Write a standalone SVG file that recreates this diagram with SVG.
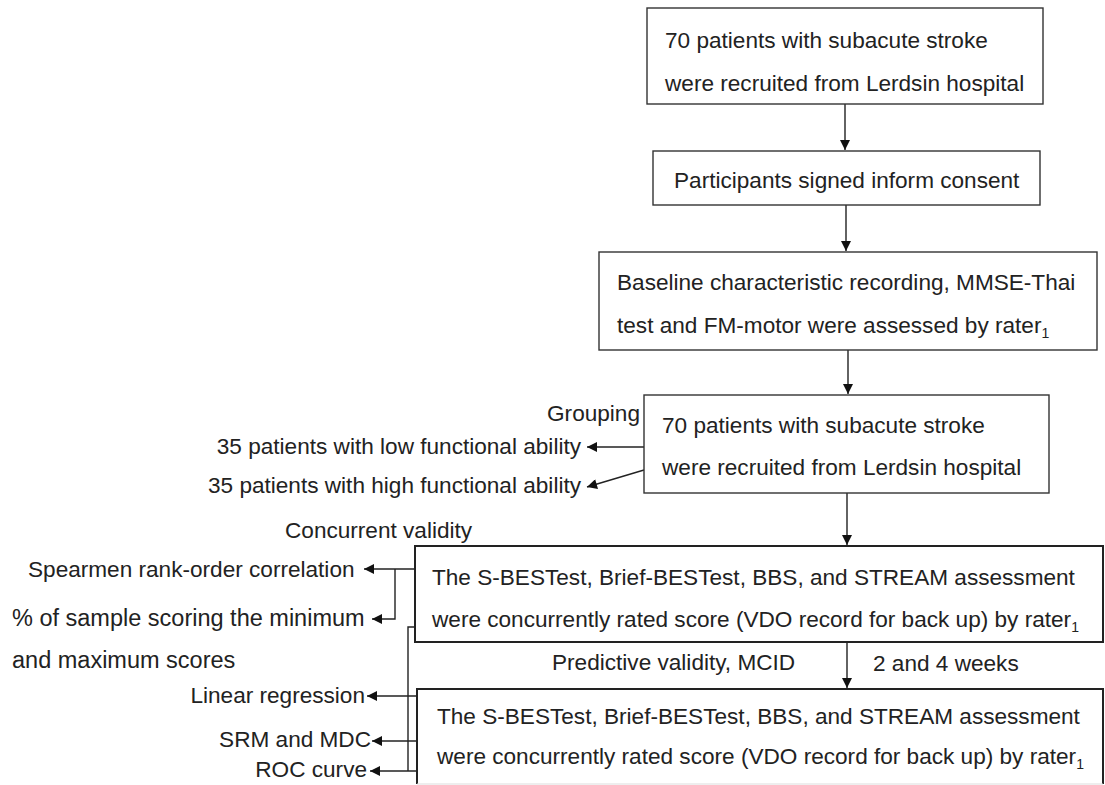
<svg xmlns="http://www.w3.org/2000/svg" width="1105" height="785" viewBox="0 0 1105 785">
  <style>
    text { font-family: "Liberation Sans", Arial, sans-serif; font-size: 22.6px; fill: #222; }
    .end { text-anchor: end; }
    .sub { font-size: 14px; }
    .box { fill: #fff; stroke: #333; stroke-width: 1.4; }
    .box-bold { fill: #fff; stroke: #222; stroke-width: 2; }
    .wire { fill: none; stroke: #222; stroke-width: 1.4; }
    .big { font-size: 23.5px; }
  </style>
  <defs>
    <marker id="arrow" viewBox="0 0 10 10" refX="10" refY="5" markerWidth="11" markerHeight="10" markerUnits="userSpaceOnUse" orient="auto">
      <path d="M0,0 L10,5 L0,10 z" fill="#111"/>
    </marker>
  </defs>
  <rect width="1105" height="785" fill="#fff"/>

  <!-- connectors -->
  <g id="connectors">
    <path class="wire" d="M845,104 V150" marker-end="url(#arrow)"/>
    <path class="wire" d="M846,205 V251" marker-end="url(#arrow)"/>
    <path class="wire" d="M848,350 V394" marker-end="url(#arrow)"/>
    <path class="wire" d="M847,493 V545" marker-end="url(#arrow)"/>
    <path class="wire" d="M847,642 V688" marker-end="url(#arrow)"/>
    <!-- grouping outputs -->
    <path class="wire" d="M644,447 H587" marker-end="url(#arrow)"/>
    <path class="wire" d="M644,470 L587,487" marker-end="url(#arrow)"/>
    <!-- concurrent validity outputs -->
    <path class="wire" d="M415,569 H364" marker-end="url(#arrow)"/>
    <path class="wire" d="M395,569 V619 H372" marker-end="url(#arrow)"/>
    <!-- predictive validity / MCID outputs -->
    <path class="wire" d="M415,627 H408 V771"/>
    <path class="wire" d="M417,696 H367" marker-end="url(#arrow)"/>
    <path class="wire" d="M417,741 H372" marker-end="url(#arrow)"/>
    <path class="wire" d="M417,771 H370" marker-end="url(#arrow)"/>
  </g>

  <g id="node-recruit">
    <rect class="box" x="647" y="8" width="396" height="96"/>
    <text x="665" y="48">70 patients with subacute stroke</text>
    <text x="665" y="91">were recruited from Lerdsin hospital</text>
  </g>

  <g id="node-consent">
    <rect class="box" x="653" y="151" width="387" height="54"/>
    <text x="674" y="188">Participants signed inform consent</text>
  </g>

  <g id="node-baseline">
    <rect class="box" x="599" y="252" width="498" height="98"/>
    <text x="617" y="290">Baseline characteristic recording, MMSE-Thai</text>
    <text x="617" y="333">test and FM-motor were assessed by rater<tspan class="sub" dy="5">1</tspan></text>
  </g>

  <g id="node-grouping">
    <rect class="box" x="644" y="395" width="405" height="98"/>
    <text x="662" y="433">70 patients with subacute stroke</text>
    <text x="662" y="475">were recruited from Lerdsin hospital</text>
  </g>

  <g id="label-grouping">
    <text class="end" x="640" y="421">Grouping</text>
    <text class="end" x="581" y="454">35 patients with low functional ability</text>
    <text class="end" x="581" y="493">35 patients with high functional ability</text>
  </g>

  <g id="label-concurrent">
    <text x="285" y="538">Concurrent validity</text>
    <text x="28" y="577">Spearmen rank-order correlation</text>
    <text class="big" x="12" y="626">% of sample scoring the minimum</text>
    <text class="big" x="12" y="668">and maximum scores</text>
  </g>

  <g id="node-assessment-1">
    <rect class="box-bold" x="415" y="546" width="688" height="96"/>
    <text x="432" y="585">The S-BESTest, Brief-BESTest, BBS, and STREAM assessment</text>
    <text x="432" y="627">were concurrently rated score (VDO record for back up) by rater<tspan class="sub" dy="5">1</tspan></text>
  </g>

  <g id="label-followup">
    <text x="552" y="670">Predictive validity, MCID</text>
    <text x="873" y="671">2 and 4 weeks</text>
  </g>

  <g id="node-assessment-2">
    <rect x="417" y="689" width="686" height="95" fill="#fff" stroke="none"/>
    <path d="M417,784 V689 H1103 V784" fill="none" stroke="#222" stroke-width="2"/>
    <path d="M417,784 H1103" fill="none" stroke="#ddd" stroke-width="1"/>
    <text x="437" y="724">The S-BESTest, Brief-BESTest, BBS, and STREAM assessment</text>
    <text x="437" y="764">were concurrently rated score (VDO record for back up) by rater<tspan class="sub" dy="5">1</tspan></text>
  </g>

  <g id="label-analysis">
    <text class="end" x="365" y="703">Linear regression</text>
    <text class="end" x="371" y="747">SRM and MDC</text>
    <text class="end" x="367" y="777">ROC curve</text>
  </g>
</svg>
